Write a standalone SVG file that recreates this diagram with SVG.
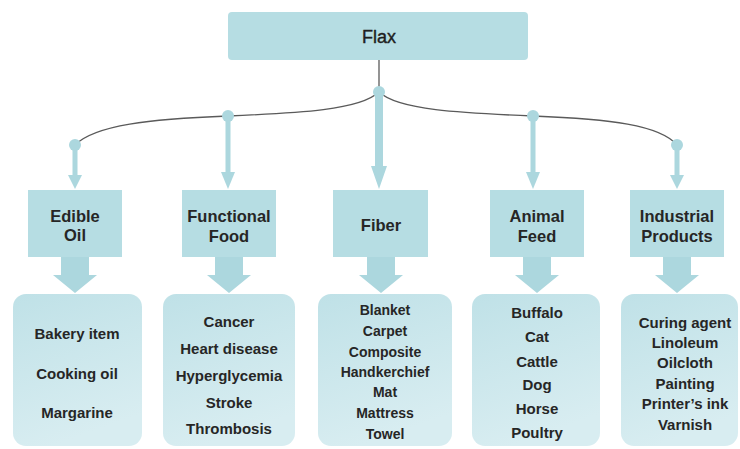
<svg xmlns="http://www.w3.org/2000/svg" width="740" height="449" viewBox="0 0 740 449">
<defs>
<linearGradient id="lg" x1="0" y1="0" x2="0.3" y2="1">
<stop offset="0" stop-color="#bfe1e7"/>
<stop offset="1" stop-color="#d8edf1"/>
</linearGradient>
<style>
.box{fill:#b6dde3}
.leaf{fill:url(#lg)}
.arr{fill:#acd7de}
.t{font-family:"Liberation Sans",Arial,sans-serif;font-weight:bold;fill:#262626;text-anchor:middle}
.cat{font-size:16.5px}
.it{font-size:15px}
.fb{font-size:14px}
.ln{fill:none;stroke:#5a5a5a;stroke-width:1.3}
</style>
</defs>
<rect width="740" height="449" fill="#ffffff"/>

<g id="connectors">
<line class="ln" x1="379" y1="60" x2="379" y2="92"/>
<path class="ln" d="M379,92 C360,110 300,113 228,116 C150,119 95,125 75,145"/>
<path class="ln" d="M379,92 C398,110 460,113 533,116 C610,119 660,125 677,145"/>
<g class="arr">
<circle cx="379" cy="92" r="6"/>
<rect x="375" y="92" width="8" height="76"/>
<polygon points="371,166 387,166 379,189"/>
<circle cx="228" cy="116" r="6"/>
<rect x="225.5" y="116" width="5" height="58"/>
<polygon points="221,172 235,172 228,189"/>
<circle cx="533" cy="116" r="6"/>
<rect x="530.5" y="116" width="5" height="58"/>
<polygon points="526,172 540,172 533,189"/>
<circle cx="75" cy="145" r="6"/>
<rect x="72.5" y="145" width="5" height="30"/>
<polygon points="68,175 82,175 75,189"/>
<circle cx="677" cy="145" r="6"/>
<rect x="674.5" y="145" width="5" height="30"/>
<polygon points="670,175 684,175 677,189"/>
</g>
<g class="arr">
<path d="M61,257 H89 V275 H97 L75,293 L53,275 H61 Z"/>
<path d="M215,257 H243 V275 H251 L229,293 L207,275 H215 Z"/>
<path d="M367,257 H395 V275 H403 L381,293 L359,275 H367 Z"/>
<path d="M523,257 H551 V275 H559 L537,293 L515,275 H523 Z"/>
<path d="M663,257 H691 V275 H699 L677,293 L655,275 H663 Z"/>
</g>
</g>

<g id="flax">
<rect class="box" x="228" y="12" width="300" height="48" rx="4"/>
<text x="379" y="43" font-family="Liberation Sans,Arial,sans-serif" font-size="18" fill="#1e1e1e" stroke="#1e1e1e" stroke-width="0.4" text-anchor="middle">Flax</text>
</g>

<g id="edible-oil">
<rect class="box" x="28" y="190" width="94" height="67"/>
<text class="t cat" x="75" y="222">Edible</text>
<text class="t cat" x="75" y="241">Oil</text>
</g>
<g id="functional-food">
<rect class="box" x="182" y="190" width="94" height="67"/>
<text class="t cat" x="229" y="222">Functional</text>
<text class="t cat" x="229" y="242">Food</text>
</g>
<g id="fiber">
<rect class="box" x="333" y="190" width="95" height="67"/>
<text class="t cat" x="381" y="231">Fiber</text>
</g>
<g id="animal-feed">
<rect class="box" x="490" y="190" width="94" height="67"/>
<text class="t cat" x="537" y="222">Animal</text>
<text class="t cat" x="537" y="242">Feed</text>
</g>
<g id="industrial-products">
<rect class="box" x="630" y="190" width="94" height="67"/>
<text class="t cat" x="677" y="222">Industrial</text>
<text class="t cat" x="677" y="242">Products</text>
</g>

<g id="edible-oil-uses">
<rect class="leaf" x="13" y="294" width="129" height="152" rx="13"/>
<text class="t it" x="77" y="339">Bakery item</text>
<text class="t it" x="77" y="379">Cooking oil</text>
<text class="t it" x="77" y="418">Margarine</text>
</g>
<g id="functional-food-uses">
<rect class="leaf" x="163" y="294" width="132" height="152" rx="13"/>
<text class="t it" x="229" y="327">Cancer</text>
<text class="t it" x="229" y="354">Heart disease</text>
<text class="t it" x="229" y="381">Hyperglycemia</text>
<text class="t it" x="229" y="408">Stroke</text>
<text class="t it" x="229" y="434">Thrombosis</text>
</g>
<g id="fiber-uses">
<rect class="leaf" x="318" y="294" width="134" height="152" rx="13"/>
<text class="t fb" x="385" y="315">Blanket</text>
<text class="t fb" x="385" y="336">Carpet</text>
<text class="t fb" x="385" y="357">Composite</text>
<text class="t fb" x="385" y="377">Handkerchief</text>
<text class="t fb" x="385" y="397">Mat</text>
<text class="t fb" x="385" y="418">Mattress</text>
<text class="t fb" x="385" y="439">Towel</text>
</g>
<g id="animal-feed-uses">
<rect class="leaf" x="472" y="294" width="128" height="152" rx="13"/>
<text class="t it" x="537" y="318">Buffalo</text>
<text class="t it" x="537" y="342">Cat</text>
<text class="t it" x="537" y="367">Cattle</text>
<text class="t it" x="537" y="390">Dog</text>
<text class="t it" x="537" y="414">Horse</text>
<text class="t it" x="537" y="438">Poultry</text>
</g>
<g id="industrial-products-uses">
<rect class="leaf" x="621" y="294" width="117" height="152" rx="13"/>
<text class="t it" x="685" y="328">Curing agent</text>
<text class="t it" x="685" y="348">Linoleum</text>
<text class="t it" x="685" y="368">Oilcloth</text>
<text class="t it" x="685" y="389">Painting</text>
<text class="t it" x="685" y="409">Printer’s ink</text>
<text class="t it" x="685" y="430">Varnish</text>
</g>
</svg>
